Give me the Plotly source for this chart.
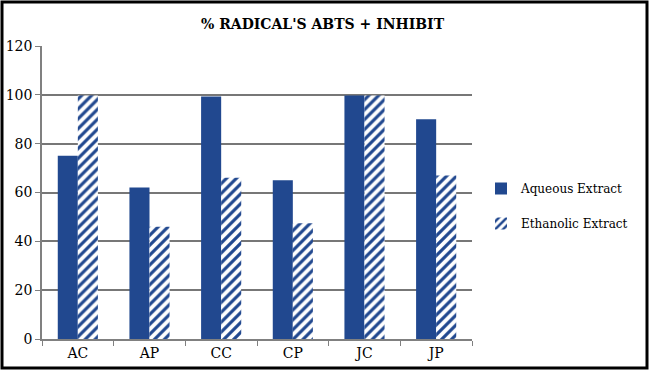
import plotly.graph_objects as go

categories = ["AC", "AP", "CC", "CP", "JC", "JP"]
aqueous = [75, 62, 99.3, 65, 99.7, 90]
ethanolic = [99.7, 46, 66, 47.4, 99.7, 67]
series_names = ["Aqueous Extract", "Ethanolic Extract"]
y_ticks = [0, 20, 40, 60, 80, 100, 120]

BLUE = "#21488f"
FONT = "DejaVu Serif"

fig = go.Figure()
fig.add_trace(go.Bar(x=categories, y=aqueous, name=series_names[0], legendgroup="a",
                     marker=dict(color=BLUE, line=dict(width=0))))
fig.add_trace(go.Bar(x=categories, y=ethanolic, name=series_names[1], legendgroup="b",
                     marker=dict(color="white", line=dict(width=0),
                                 pattern=dict(shape="/", fgcolor=BLUE, bgcolor="white",
                                              size=7, solidity=0.45, fillmode="replace"))))

W, H = 649, 372
L, R, T, B = 42, 177, 46, 33
pw, ph = W - L - R, H - T - B
def px(xp): return (xp - L) / pw
def py(yp): return (H - B - yp) / ph

fig.update_layout(
    width=W, height=H,
    margin=dict(l=L, r=R, t=T, b=B, autoexpand=False),
    paper_bgcolor="white", plot_bgcolor="white",
    barmode="group", bargap=0.44, bargroupgap=0,
    font=dict(family=FONT, size=12, color="black"),
    title=dict(text="<b>% RADICAL'S ABTS + INHIBIT</b>", x=0.497, xanchor="center",
               y=1 - 24 / H, yanchor="middle", font=dict(family=FONT, size=14, color="black")),
    legend=dict(x=px(481), y=py(206), xanchor="left", yanchor="middle",
                font=dict(family=FONT, size=12, color="black"),
                bgcolor="rgba(0,0,0,0)", tracegroupgap=16),
    showlegend=True,
    xaxis=dict(showline=True, linecolor="#808080", linewidth=1.5, ticks="outside",
               tickson="boundaries", ticklen=5, tickcolor="#808080", showgrid=False,
               automargin=False, tickfont=dict(family=FONT, size=14, color="black")),
    yaxis=dict(range=[0, 120], tickvals=y_ticks, showline=True, linecolor="#808080",
               linewidth=1.5, ticks="outside", ticklen=5, tickcolor="#808080",
               showgrid=True, gridcolor="#777777", gridwidth=1.5, zeroline=False,
               automargin=False, tickfont=dict(family=FONT, size=14, color="black")),
)

fig.add_shape(type="rect", xref="paper", yref="paper",
              x0=px(2), x1=px(647), y0=py(368), y1=py(2),
              line=dict(color="black", width=3), fillcolor="rgba(0,0,0,0)", layer="above")

fig.write_html("out.html", config={"displayModeBar": False},
               post_script="document.body.style.margin='0';")
